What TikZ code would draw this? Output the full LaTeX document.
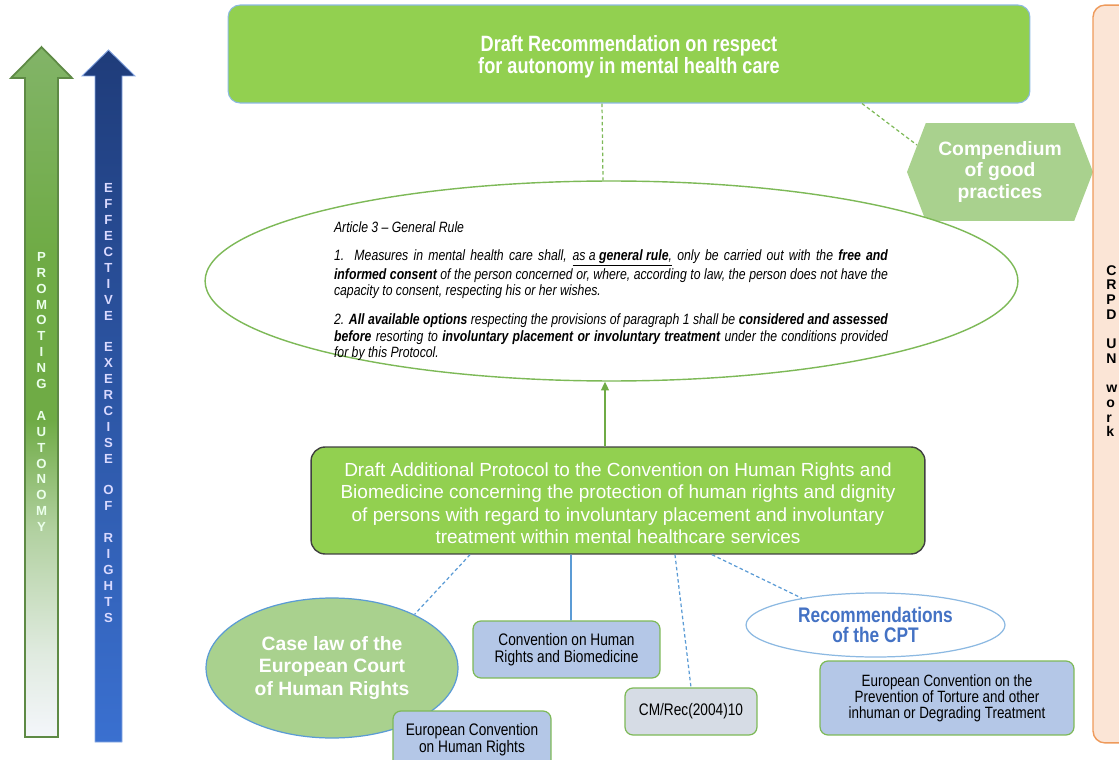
\documentclass[tikz,border=0pt]{standalone}
\usepackage{fontspec}
\setmainfont{Liberation Sans}
\newfontfamily\arialn[FakeStretch=0.82]{Liberation Sans}
\usetikzlibrary{shapes.geometric,shapes.symbols,arrows.meta}

\definecolor{boxgreen}{HTML}{92D050}
\definecolor{hexgreen}{HTML}{A9D18E}
\definecolor{boxblue}{HTML}{B4C7E7}
\definecolor{boxgrey}{HTML}{D6DCE5}
\definecolor{linegreen}{HTML}{7DB957}
\definecolor{lineblue}{HTML}{5B9BD5}
\definecolor{cpttext}{HTML}{4472C4}
\definecolor{panelfill}{HTML}{FBE5D6}
\definecolor{panelline}{HTML}{EE9A5B}
\definecolor{arrowgreen}{HTML}{6FAB45}
\definecolor{topgreen}{HTML}{82B468}
\definecolor{paleend}{HTML}{F4F6FB}
\definecolor{arrowedge}{HTML}{5E8A45}
\definecolor{navy}{HTML}{1F3C7A}
\definecolor{lightnavy}{HTML}{3A70D0}

\pgfdeclareverticalshading{promoshade}{100bp}{color(0bp)=(paleend); color(25bp)=(paleend);
  color(31bp)=(arrowgreen!15!paleend); color(40bp)=(arrowgreen!50!paleend);
  color(48bp)=(arrowgreen); color(60bp)=(arrowgreen); color(75bp)=(topgreen); color(100bp)=(topgreen)}

\begin{document}
\begin{tikzpicture}[x=0.02cm, y=-0.02cm,
  smallbox/.style={draw=linegreen, line width=0.7pt, fill=boxblue, rounded corners=0.16cm,
    inner sep=0pt, align=center, font=\arialn\fontsize{9.5}{9.7}\selectfont},
  greendash/.style={draw=linegreen, line width=0.7pt, dash pattern=on 2pt off 1.5pt},
  bluedash/.style={draw=lineblue, line width=0.7pt, dash pattern=on 2pt off 1.5pt},
  stackletters/.style={align=center, inner sep=0pt, font=\bfseries\fontsize{7.5}{9.05}\selectfont}
]
\clip (0,0) rectangle (1119,760);

% the two upward arrows
\shade[shading=promoshade, draw=arrowedge, line width=1pt]
  (25,737) -- (25,78) -- (11,78) -- (41.5,47) -- (72,78) -- (58,78) -- (58,737) -- cycle;
\shade[top color=navy, bottom color=lightnavy, draw=lightnavy!60!white, line width=0.5pt]
  (95,742) -- (95,76) -- (82,76) -- (108.5,50) -- (135,76) -- (122,76) -- (122,742) -- cycle;
\node[stackletters, text=green!8!white] (promo) at (41.5,392)
  {P\\R\\O\\M\\O\\T\\I\\N\\G\\\mbox{}\\A\\U\\T\\O\\N\\O\\M\\Y};
\node[stackletters, text=blue!15!white] (exer) at (108.5,403)
  {E\\F\\F\\E\\C\\T\\I\\V\\E\\\mbox{}\\E\\X\\E\\R\\C\\I\\S\\E\\\mbox{}\\O\\F\\\mbox{}\\R\\I\\G\\H\\T\\S};

% top recommendation
\node[draw=lineblue!70!white, line width=0.6pt, fill=boxgreen, rounded corners=0.24cm,
  minimum width=16.04cm, minimum height=1.96cm, inner sep=0pt, align=center, text=white,
  font=\arialn\bfseries\fontsize{12.6}{12.5}\selectfont] (recom) at (629,54)
  {\rule{0pt}{12.6pt}Draft Recommendation on respect\\for autonomy in mental health care};

% compendium and side panel
\node[signal, signal to=west and east, signal pointer angle=138, fill=hexgreen,
  minimum width=3.72cm, minimum height=1.96cm, inner sep=0pt, align=center, text=white,
  font=\bfseries\fontsize{11}{12.5}\selectfont] (comp) at (1000,172)
  {Compendium\\of good\\practices};
\node[draw=panelline, line width=0.8pt, fill=panelfill, rounded corners=0.24cm,
  minimum width=0.94cm, minimum height=14.76cm, inner sep=0pt] (panel) at (1116.5,374) {};
\node[anchor=west, align=left, inner sep=0pt, font=\bfseries\fontsize{8}{8.37}\selectfont]
  (crpd) at (1106,351) {C\\R\\P\\D\\\mbox{}\\U\\N\\\mbox{}\\w\\o\\r\\k};

% article 3
\node[ellipse, draw=linegreen, line width=0.8pt, fill=white, minimum width=16.26cm,
  minimum height=4cm, inner sep=0pt] (rule) at (611.5,281) {};
\node[text width=11.08cm, align=justify, inner sep=0pt,
  font=\arialn\itshape\fontsize{8.5}{9.4}\selectfont] (article) at (611,291.5)
  {Article 3 – General Rule\par\vspace{6pt}
   1. Measures in mental health care shall, \underline{as a \textbf{general rule},} only be carried out with the \textbf{free and}\linebreak
   \textbf{informed consent} of the person concerned or, where, according to law, the person does not have the\linebreak
   capacity to consent, respecting his or her wishes.\par\vspace{7.1pt}
   2. \textbf{All available options} respecting the provisions of paragraph 1 shall be \textbf{considered and assessed}\linebreak
   \textbf{before} resorting to \textbf{involuntary placement or involuntary treatment} under the conditions provided\linebreak
   for by this Protocol.};

% protocol
\node[draw=black!75, line width=0.8pt, fill=boxgreen, rounded corners=0.28cm,
  minimum width=12.28cm, minimum height=2.14cm, inner sep=0pt,
  align=center, text=white, font=\fontsize{10.8}{12.8}\selectfont] (proto) at (618,500.5)
  {\rule{0pt}{11pt}Draft Additional Protocol to the Convention on Human Rights and\\
   Biomedicine concerning the protection of human rights and dignity\\
   of persons with regard to involuntary placement and involuntary\\
   treatment within mental healthcare services};

% sources
\node[ellipse, draw=lineblue, line width=0.7pt, fill=hexgreen, minimum width=5.04cm,
  minimum height=2.8cm, inner sep=0pt, align=center, text=white,
  font=\bfseries\fontsize{11}{12.8}\selectfont] (caselaw) at (332,668)
  {Case law of the\\European Court\\of Human Rights};
\node[smallbox, minimum width=3.16cm, minimum height=1.14cm] (echr) at (472,739.5)
  {European Convention\\on Human Rights};
\node[smallbox, minimum width=3.74cm, minimum height=1.14cm] (oviedo) at (566.5,649.5)
  {Convention on Human\\Rights and Biomedicine};
\node[smallbox, fill=boxgrey, minimum width=2.64cm, minimum height=0.94cm] (cmrec) at (691,711.5)
  {CM/Rec(2004)10};
\node[ellipse, draw=lineblue!70!white, line width=0.7pt, fill=white, minimum width=5.18cm,
  minimum height=1.28cm, inner sep=0pt, align=center, text=cpttext,
  font=\arialn\bfseries\fontsize{12}{11.4}\selectfont] (cpt) at (875.5,625)
  {Recommendations\\of the CPT};
\node[smallbox, minimum width=5.08cm, minimum height=1.48cm,
  font=\arialn\fontsize{9.3}{9.1}\selectfont] (ecpt) at (947,698)
  {European Convention on the\\Prevention of Torture and other\\inhuman or Degrading Treatment};

% connectors
\draw[greendash] ([xshift=-0.54cm]recom.south) -- ([xshift=-0.17cm]rule.north);
\draw[greendash] (recom.-12.6) -- (comp.162);
\draw[draw=arrowgreen, line width=0.9pt, -{Triangle[length=5pt,width=4.5pt]}]
  ([xshift=-0.26cm]proto.north) -- ([xshift=-0.13cm]rule.south);
\draw[bluedash] ([xshift=-2.96cm]proto.south) -- (caselaw.33);
\draw[draw=lineblue, line width=1pt] ([xshift=-0.94cm]proto.south) -- ([xshift=0.09cm]oviedo.north);
\draw[bluedash] ([xshift=1.14cm]proto.south) -- (cmrec.north);
\draw[bluedash] ([xshift=1.88cm]proto.south) -- (cpt.160.6);
\end{tikzpicture}
\end{document}
